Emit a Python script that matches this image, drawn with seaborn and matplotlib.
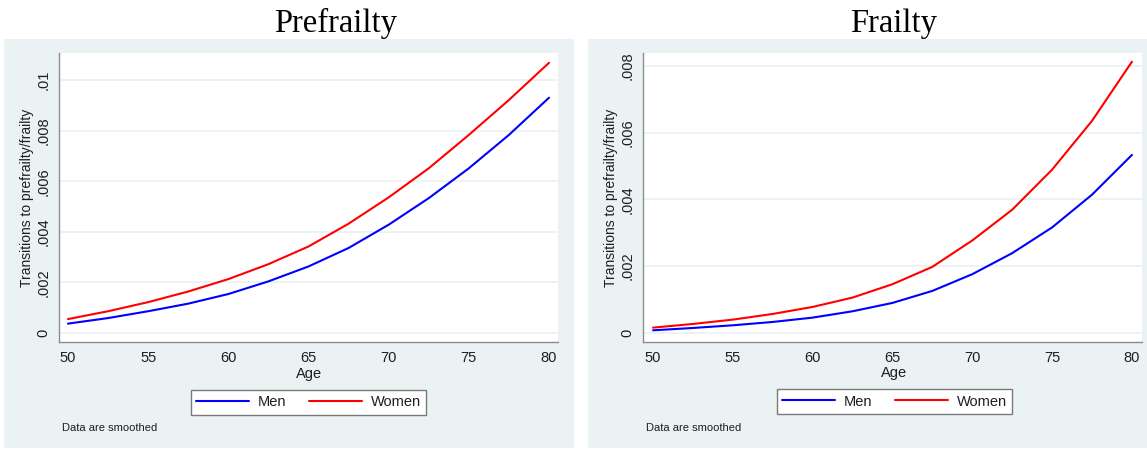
import numpy as np
import pandas as pd
import matplotlib
matplotlib.use("Agg")
import matplotlib.pyplot as plt
import seaborn as sns
from matplotlib.lines import Line2D
from matplotlib.patches import Rectangle

# ---------------- data ----------------
ages = [50, 52.5, 55, 57.5, 60, 62.5, 65, 67.5, 70, 72.5, 75, 77.5, 80]

pre_men = [0.00037, 0.00059, 0.00086, 0.00116, 0.00154, 0.00204, 0.00263,
           0.00336, 0.00428, 0.00533, 0.00651, 0.00783, 0.00930]
pre_women = [0.00055, 0.00086, 0.00122, 0.00164, 0.00213, 0.00272, 0.00342,
             0.00432, 0.00536, 0.00651, 0.00783, 0.00921, 0.01068]

fr_men = [0.00008, 0.00015, 0.00023, 0.00033, 0.00046, 0.00065, 0.00090,
          0.00126, 0.00176, 0.00239, 0.00316, 0.00414, 0.00533]
fr_women = [0.00016, 0.00027, 0.00040, 0.00057, 0.00078, 0.00106, 0.00146,
            0.00198, 0.00277, 0.00369, 0.00489, 0.00635, 0.00812]

x_ticks = [50, 55, 60, 65, 70, 75, 80]
pre_yticks = [0, 0.002, 0.004, 0.006, 0.008, 0.01]
pre_ylabels = ["0", ".002", ".004", ".006", ".008", ".01"]
fr_yticks = [0, 0.002, 0.004, 0.006, 0.008]
fr_ylabels = ["0", ".002", ".004", ".006", ".008"]

titles = ["Prefrailty", "Frailty"]
series_names = ["Men", "Women"]
ylabel = "Transitions to prefrailty/frailty"
xlabel = "Age"
note = "Data are smoothed"

# ---------------- style ----------------
sns.set_style("white")
plt.rcParams['font.family'] = ['Liberation Sans', 'DejaVu Sans']

W, H = 1147, 449
fig = plt.figure(figsize=(W / 100, H / 100), dpi=100)
fig.patch.set_facecolor("white")

BG = "#EAF2F3"
GRID = "#EAF1F2"
SPINE = "#8C8C8C"
TXT = "#1E1E1E"
palette = {"Men": "#0000FF", "Women": "#FF0000"}


def px_rect(x0, y0, x1, y1):
    """pixel box (top-left origin) -> figure fraction [l, b, w, h]"""
    return [x0 / W, 1 - y1 / H, (x1 - x0) / W, (y1 - y0) / H]


panels = [
    dict(bg=(4, 39, 574, 448), ax=(59, 53, 558, 342), xlim=(49.44, 80.56),
         ylim=(-0.000356, 0.011067), yt=pre_yticks, yl=pre_ylabels,
         men=pre_men, women=pre_women, title=titles[0], tx=336,
         leg=(308.5, 402.5), agex=309, agey=374, notex=62, notey=428),
    dict(bg=(588, 39, 1147, 448), ax=(643, 53, 1142, 342), xlim=(49.37, 80.63),
         ylim=(-0.00027, 0.00838), yt=fr_yticks, yl=fr_ylabels,
         men=fr_men, women=fr_women, title=titles[1], tx=894,
         leg=(894.5, 401.5), agex=894.5, agey=373, notex=646.5, notey=428),
]

for p in panels:
    # graph region background
    l, b, w, h = px_rect(*p["bg"])
    fig.patches.append(Rectangle((l, b), w, h, transform=fig.transFigure,
                                 facecolor=BG, edgecolor="none", zorder=-10))
    ax = fig.add_axes(px_rect(*p["ax"]))
    ax.set_zorder(1)
    ax.set_facecolor("white")
    df = pd.DataFrame({
        "Age": ages * 2,
        "Value": p["men"] + p["women"],
        "Sex": ["Men"] * len(ages) + ["Women"] * len(ages),
    })
    sns.lineplot(data=df, x="Age", y="Value", hue="Sex", palette=palette,
                 linewidth=1.5, ax=ax, legend=False, zorder=3)
    ax.set_xlim(*p["xlim"])
    ax.set_ylim(*p["ylim"])
    ax.set_xticks(x_ticks)
    ax.set_xticklabels([str(t) for t in x_ticks])
    ax.set_yticks(p["yt"])
    ax.set_yticklabels(p["yl"], rotation=90, va="center")
    ax.grid(axis="y", color=GRID, linewidth=1.2, zorder=0)
    ax.grid(axis="x", visible=False)
    for s in ["top", "right"]:
        ax.spines[s].set_visible(False)
    for s in ["left", "bottom"]:
        ax.spines[s].set_color(SPINE)
        ax.spines[s].set_linewidth(1.0)
    ax.tick_params(axis="both", direction="out", length=4.5, width=0.9,
                   color=SPINE, labelsize=10.5, labelcolor=TXT, pad=2)
    ax.tick_params(axis="y", labelsize=10.5, pad=1.5)
    ax.set_xlabel("")
    ax.set_ylabel(ylabel, fontsize=10, color=TXT, labelpad=2)

    fig.text(p["agex"] / W, 1 - p["agey"] / H, xlabel, ha="center",
             va="center", fontsize=10.5, color=TXT)
    fig.text(p["tx"] / W, 1 - 32 / H, p["title"], ha="center", va="baseline",
             fontsize=23.5, family=["Liberation Serif", "DejaVu Serif"],
             color="black")
    fig.text(p["notex"] / W, 1 - p["notey"] / H, note, ha="left", va="center",
             fontsize=8, color=TXT)

    handles = [Line2D([0], [0], color=palette[n], lw=1.5) for n in series_names]
    leg = fig.legend(handles, series_names, loc="center",
                     bbox_to_anchor=(p["leg"][0] / W, 1 - p["leg"][1] / H),
                     ncol=2, fontsize=10.5, frameon=True, fancybox=False,
                     handlelength=3.6, handletextpad=0.6, columnspacing=1.6,
                     borderpad=0.35, borderaxespad=0)
    leg.set_zorder(2)
    fr = leg.get_frame()
    fr.set_edgecolor("#7A7A7A")
    fr.set_linewidth(1.0)
    fr.set_facecolor("white")
    fr.set_alpha(1)
    for t in leg.get_texts():
        t.set_color(TXT)

fig.savefig("out.png", dpi=100, facecolor="white")
